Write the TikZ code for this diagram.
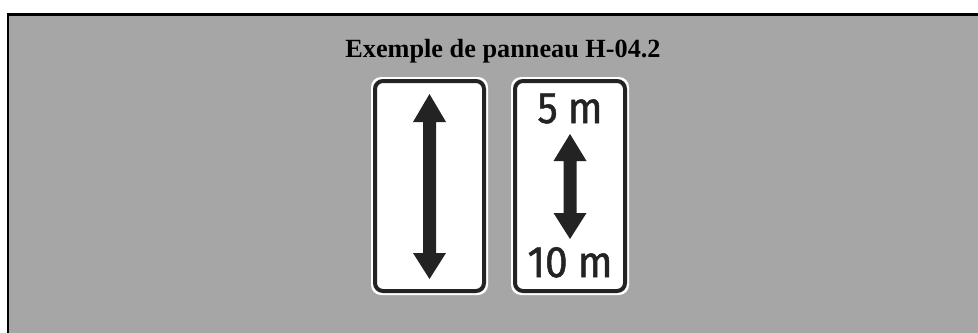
\documentclass[tikz,border=0pt]{standalone}
\usepackage{fontspec}
\setmainfont{Liberation Serif}
\newfontfamily\signfont[FakeBold=1.2]{Fira Sans}
\definecolor{bgGray}{HTML}{A6A6A6}
\definecolor{signInk}{HTML}{232323}

\begin{document}
\begin{tikzpicture}[x=0.75pt,y=-0.75pt,
  plate/.style={fill=white,rounded corners=7.5pt},
  rim/.style={draw=signInk,line width=3pt,rounded corners=6pt},
  arrowbody/.style={fill=signInk},
  signtext/.style={anchor=base,text=signInk,inner sep=0pt,xscale=0.92,
    font=\signfont\fontsize{33}{35}\selectfont}]
  \useasboundingbox (0,0) rectangle (978,332);
  \clip (0,0) rectangle (978,332);
  % panel with frame on top and left
  \fill[bgGray] (8.2,14.5) rectangle (990,345);
  \draw[line width=1.7pt] (8.2,345) -- (8.2,14.5) -- (990,14.5);
  \node[anchor=base,font=\bfseries\fontsize{19.7}{22}\selectfont] (title) at (503,57) {Exemple de panneau H-04.2};
  % the two signs
  \foreach \s/\w in {371/117, 511/118}{
    \fill[plate] (\s,77) rectangle ++(\w,218);
    \draw[rim] (\s+4,81) rectangle ++(\w-8,210);
  }
  \foreach \c/\ta/\ba/\bb/\tb in {429.5/94/122/253/279, 570/134/161/213/239}{
    \fill[arrowbody] (\c,\ta) -- (\c+16.5,\ba) -- (\c+6.5,\ba) -- (\c+6.5,\bb) -- (\c+16.5,\bb)
      -- (\c,\tb) -- (\c-16.5,\bb) -- (\c-6.5,\bb) -- (\c-6.5,\ba) -- (\c-16.5,\ba) -- cycle;
  }
  \node[signtext] (near) at (570,123) {5\hspace{0.25em}m};
  \node[signtext] (far) at (570,277) {10\hspace{0.25em}m};
\end{tikzpicture}
\end{document}
